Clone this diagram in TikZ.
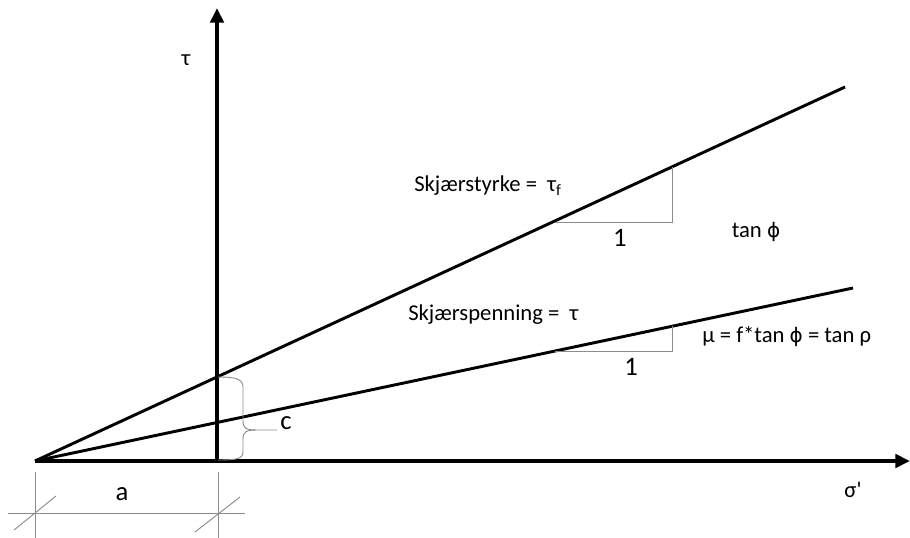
\documentclass[tikz,border=0pt]{standalone}
\usepackage{fontspec}
\setmainfont{Carlito}
\newfontfamily\phifont{DejaVu Sans}
\usetikzlibrary{arrows.meta}

\newcommand{\phisym}{{\phifont\fontsize{15}{18}\selectfont ϕ}}

\begin{document}
\begin{tikzpicture}[x=0.75pt,y=0.75pt,yscale=-1,
    axis/.style={line width=2.8pt, -{Triangle[length=11pt,width=10pt]}},
    envelope/.style={line width=2.2pt},
    guide/.style={draw=black!45, line width=0.7pt},
    lbl/.style={inner sep=0pt, font=\fontsize{17}{20}\selectfont},
    unit/.style={inner sep=0pt, font=\fontsize{20}{24}\selectfont}]

    \useasboundingbox (0,0) rectangle (910,538);

    % axes
    \coordinate (O)    at (35,461);
    \coordinate (xend) at (910,461);
    \coordinate (ybot) at (217,461);
    \coordinate (ytop) at (217,8);
    \draw [axis] (O) -- (xend);
    \draw [axis] (ybot) -- (ytop);

    % lines
    \coordinate (fend) at (845,87);
    \coordinate (send) at (853,288);
    \draw [envelope] (O) -- (fend);
    \draw [envelope] (O) -- (send);

    % slope triangles
    \coordinate (f1) at (555,222);
    \coordinate (f2) at (672,222);
    \coordinate (f3) at (672,167);
    \draw [guide] (f1) -- (f2) -- (f3);
    \coordinate (s1) at (555,351);
    \coordinate (s2) at (672,351);
    \coordinate (s3) at (672,326);
    \draw [guide] (s1) -- (s2) -- (s3);

    % brace c
    \coordinate (ctop) at (218,377);
    \coordinate (cbot) at (218,460);
    \coordinate (ctip) at (277,430);
    \draw [guide] (ctop) .. controls (236,377) and (243,379) .. (243,387) -- (243,421)
        .. controls (243,428) and (246,430) .. (256,430) -- (ctip);
    \draw [guide] (256,430) .. controls (246,430) and (243,432) .. (243,439) -- (243,452)
        .. controls (243,459) and (236,460) .. (cbot);

    % dimension a
    \coordinate (a1) at (35,472);
    \coordinate (a2) at (35,538);
    \coordinate (b1) at (218,472);
    \coordinate (b2) at (218,538);
    \coordinate (d1) at (8,513);
    \coordinate (d2) at (245,513);
    \draw [guide] (a1) -- (a2);
    \draw [guide] (b1) -- (b2);
    \draw [guide] (d1) -- (d2);
    \coordinate (t1) at (14,530);
    \coordinate (t2) at (56,496);
    \coordinate (t3) at (195,532);
    \coordinate (t4) at (240,497);
    \draw [guide] (t1) -- (t2);
    \draw [guide] (t3) -- (t4);

    % labels
    \draw (186,60)  node [lbl] (tau)   {τ};
    \draw (853,490) node [lbl] (sigma) {σ\textquotesingle};
    \draw (414,186) node [lbl, anchor=west] (strength) {Skjærstyrke =\ \ τ\textsubscript{f}};
    \draw (408,315) node [lbl, anchor=west] (stress)   {Skjærspenning =\ \ τ};
    \draw (620,238) node [unit] (one1) {1};
    \draw (631,367) node [unit] (one2) {1};
    \draw (756,232) node [lbl] (tanphi) {tan \phisym};
    \draw (702,337) node [lbl, anchor=west] (mu) {μ = f*tan \phisym{} = tan ρ};
    \draw (286,423) node [unit] (c) {c};
    \draw (122,494) node [unit] (a) {a};

\end{tikzpicture}
\end{document}
